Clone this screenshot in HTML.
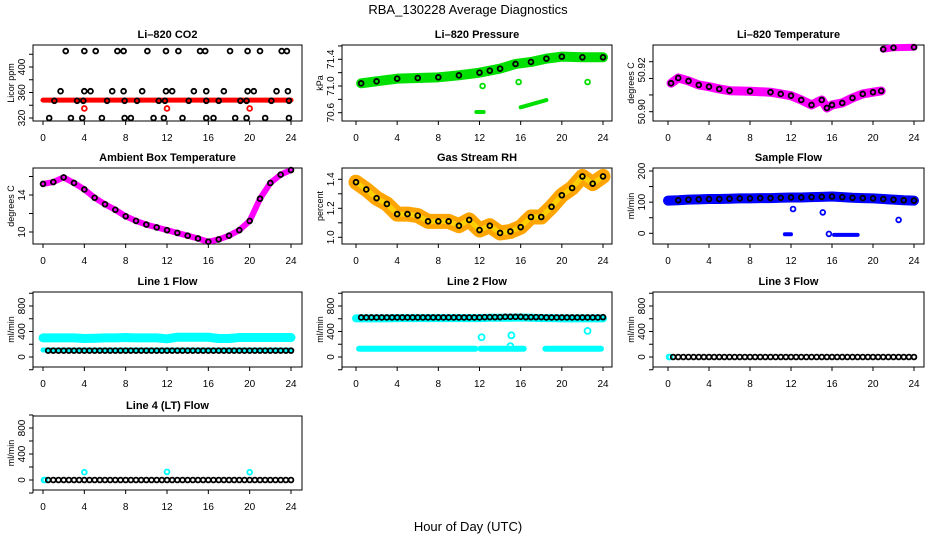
<!DOCTYPE html>
<html><head><meta charset="utf-8">
<style>
html,body{margin:0;padding:0;background:#fff;}
svg{display:block;font-family:"Liberation Sans",sans-serif;}
.t{font-weight:bold;font-size:11px;}
.tk{font-size:10px;}
</style></head>
<body>
<svg id="c" width="936" height="540" viewBox="0 0 936 540">
<text x="468" y="14" text-anchor="middle" font-size="13">RBA_130228  Average Diagnostics</text>
<text x="468" y="531" text-anchor="middle" font-size="13">Hour of Day (UTC)</text>
</svg>
<script>
// ---------- data ----------
const hours = [0,1,2,3,4,5,6,7,8,9,10,11,12,13,14,15,16,17,18,19,20,21,22,23,24];
const halfHours = [0.5,1,1.5,2,2.5,3,3.5,4,4.5,5,5.5,6,6.5,7,7.5,8,8.5,9,9.5,10,10.5,11,11.5,12,12.5,13,13.5,14,14.5,15,15.5,16,16.5,17,17.5,18,18.5,19,19.5,20,20.5,21,21.5,22,22.5,23,23.5,24];
// CO2
const co2HiX = [2.2,4.0,5.1,7.2,7.8,10.1,11.9,13.1,15.2,15.7,18.1,19.8,21.0,23.1,23.6];
const co2HiV = [425,425,425,425,425,425,425,425,425,425,425,425,425,425,425];
const co2MidX = [1.7,4.0,4.6,6.7,7.8,9.6,11.9,12.5,14.6,15.8,17.5,19.8,20.4,22.6,23.7];
const co2MidV = [362,362,362,362,362,362,362,362,362,362,362,362,362,362,362];
const co2MainX = [1.1,3.3,3.9,6.2,7.9,9.1,11.2,11.8,14.1,15.8,17.0,19.1,19.7,22.1,23.8];
const co2MainV = [347,347,347,347,347,347,347,347,347,347,347,347,347,347,347];
const co2LowX = [0.6,2.7,3.8,5.7,7.9,8.5,10.7,11.7,13.5,15.8,16.5,18.6,19.7,21.5,23.8];
const co2LowV = [320,320,320,320,320,320,320,320,320,320,320,320,320,320,320];
const co2Band = [348,348,348,348,348,348,348,348,348,348,348,348,348,348,348,348,348,348,348,348,348,348,348,348,348];
const co2RedX = [4,12,20];
const co2RedV = [335,335,335];
// Pressure
const presX = [0.5,2,4,6,8,10,12,13,14,15.5,17,18.5,20,22,24];
const presV = [71.04,71.07,71.11,71.12,71.13,71.16,71.2,71.23,71.26,71.33,71.36,71.41,71.44,71.43,71.43];
const presOutX = [12.3,15.8,22.5];
const presOutV = [71.0,71.06,71.06];
const presSegA = [[11.7,70.61],[12.4,70.61]];
const presSegB = [[16.0,70.68],[18.5,70.79]];
// Li-820 temperature
const ltX = [0.3,1,2,3,4,5,6,8,10,11,12,13,14,15,15.5,16,17,18,19,20,20.8,21,22,24];
const ltV = [50.9114,50.9135,50.9123,50.9107,50.9100,50.9091,50.9084,50.9082,50.9078,50.9071,50.9064,50.9047,50.9027,50.9047,50.9015,50.9027,50.9035,50.9055,50.9071,50.9078,50.9083,50.9250,50.9256,50.9258];
// Ambient box temperature
const ambV = [15.2,15.4,15.9,15.3,14.6,13.7,13.0,12.4,11.7,11.2,10.8,10.5,10.2,9.9,9.6,9.3,8.95,9.2,9.6,10.2,11.2,13.6,15.3,16.2,16.7];
// Gas stream RH
const rhV = [1.38,1.33,1.27,1.23,1.16,1.16,1.15,1.11,1.11,1.11,1.08,1.12,1.05,1.08,1.03,1.04,1.07,1.14,1.14,1.21,1.29,1.34,1.42,1.37,1.42];
// Sample flow
const sfV = [105,106,108,109,110,110,111,112,112,113,113,114,115,115,116,117,118,116,114,113,112,110,108,106,105];
const sfOutX = [12.2,15.1,15.7,22.5];
const sfOutV = [78,67,-2,43];
const sfSegA = [[11.4,-3],[12.0,-3]];
const sfSegB = [[16.2,-5],[18.5,-5]];
// Line flows
const l1Band = [300,300,300,300,290,295,300,300,305,300,300,300,285,310,310,310,310,290,290,305,305,305,305,305,305];
const l1Low = [110,110,110,110,110,110,110,110,110,110,110,110,110,110,110,110,110,110,110,110,110,110,110,110,110];
const l1Black = [100,100,100,100,100,100,100,100,100,100,100,100,100,100,100,100,100,100,100,100,100,100,100,100,100,100,100,100,100,100,100,100,100,100,100,100,100,100,100,100,100,100,100,100,100,100,100,100];
const l2Band = [605,605,605,605,610,610,610,610,610,610,610,610,610,615,615,615,620,615,610,610,605,605,605,605,605];
const l2Black = [620,620,620,620,620,620,620,620,620,620,620,620,620,620,620,620,620,620,620,620,620,620,620,620,625,625,625,625,630,630,630,630,625,625,625,625,620,620,620,620,620,620,620,620,620,620,620,625];
const l2LowSegs = [[0.3,11.6,130],[12.1,16.3,130],[18.4,23.8,130]];
const l2OutX = [12.2,15.1,22.5,15.0];
const l2OutV = [310,340,410,170];
const zeroHalf = [0,0,0,0,0,0,0,0,0,0,0,0,0,0,0,0,0,0,0,0,0,0,0,0,0,0,0,0,0,0,0,0,0,0,0,0,0,0,0,0,0,0,0,0,0,0,0,0];
const l4OutX = [4,12,20];
const l4OutV = [120,125,120];

// ---------- layout ----------
const NS = "http://www.w3.org/2000/svg";
const svg = document.getElementById('c');
function el(tag, attrs, parent){const e=document.createElementNS(NS,tag);for(const k in attrs)e.setAttribute(k,attrs[k]);(parent||svg).appendChild(e);return e;}
const cols = [{l:33,r:302,x0:43,x24:291},{l:342,r:612,x0:356,x24:603},{l:653,r:924,x0:668,x24:914}];
const rows = [{t:45,b:121},{t:168,b:244},{t:292,b:367},{t:416,b:490}];

function panel(name,title,ci,ri,ylab,v0,p0,v1,p1,ticks,labels){
  const c=cols[ci], r=rows[ri];
  const g=el('g',{});
  
  
  const X=h=>c.x0+(h/24)*(c.x24-c.x0);
  const Y=v=>p0+(v-v0)*(p1-p0)/(v1-v0);
  const tt=el('text',{x:(c.l+c.r)/2,y:r.t-7,'text-anchor':'middle','class':'t'},g);tt.textContent=title;
  
  
  const box=el('rect',{x:c.l,y:r.t,width:c.r-c.l,height:r.b-r.t,fill:'none',stroke:'#000','stroke-width':1},g);
  
  
  const xa=el('g',{},g);
  
  
  el('line',{x1:X(0),x2:X(24),y1:r.b,y2:r.b,stroke:'#000'},xa);
  [0,4,8,12,16,20,24].forEach(h=>{el('line',{x1:X(h),x2:X(h),y1:r.b,y2:r.b+4,stroke:'#000'},xa);
    const t=el('text',{x:X(h),y:r.b+20,'text-anchor':'middle','class':'tk'},xa);t.textContent=h;});
  const ya=el('g',{},g);
  
  
  const ys=ticks.map(Y);
  el('line',{x1:c.l,x2:c.l,y1:Math.min(...ys),y2:Math.max(...ys),stroke:'#000'},ya);
  ticks.forEach(v=>el('line',{x1:c.l-4,x2:c.l,y1:Y(v),y2:Y(v),stroke:'#000'},ya));
  labels.forEach(([v,s])=>{const t=el('text',{x:0,y:0,'text-anchor':'middle','class':'tk',transform:`translate(${c.l-8},${Y(v)}) rotate(-90)`},ya);t.textContent=s;});
  const yt=el('text',{x:0,y:0,'text-anchor':'middle','font-size':9,transform:`translate(${c.l-19},${(r.t+r.b)/2}) rotate(-90)`},g);yt.textContent=ylab;
  
  
  const clip=el('g',{},g);
  return {X,Y,g:clip};
}
function band(P,xs,vs,color,w,nm){
  const pl=el('polyline',{points:xs.map((h,i)=>P.X(h)+','+P.Y(vs[i])).join(' '),fill:'none',stroke:color,'stroke-width':w,'stroke-linejoin':'round','stroke-linecap':'round'},P.g);
  
  
}
function pts(P,xs,vs,color,nm,rad){
  xs.forEach((h,i)=>{const ci=el('circle',{cx:P.X(h),cy:P.Y(vs[i]),r:rad||2.4,fill:'none',stroke:color,'stroke-width':1.8},P.g);
    
    });
}
function seg(P,s,color,w,nm){band(P,[s[0][0],s[1][0]],[s[0][1],s[1][1]],color,w,nm);}

let P=panel('co2','Li\u2013820 CO2',0,0,'Licor ppm',320,118,400,67,[320,340,360,380,400,420],[[320,'320'],[360,'360'],[400,'400']]);
band(P,hours,co2Band,'#ff0000',5,'co2-band');
pts(P,co2HiX,co2HiV,'#000','co2-point');pts(P,co2MidX,co2MidV,'#000','co2-point');
pts(P,co2MainX,co2MainV,'#000','co2-point');pts(P,co2LowX,co2LowV,'#000','co2-point');
pts(P,co2RedX,co2RedV,'#ff0000','co2-red-point');
P=panel('pressure','Li\u2013820 Pressure',1,0,'kPa',71.0,86,71.4,59.3,[70.6,70.8,71.0,71.2,71.4,71.6],[[70.6,'70.6'],[71.0,'71.0'],[71.4,'71.4']]);
band(P,presX,presV,'#00e000',10,'pressure-band');
seg(P,presSegA,'#00e000',4,'pressure-outlier-seg');seg(P,presSegB,'#00e000',4,'pressure-outlier-seg');
pts(P,presOutX,presOutV,'#00e000','pressure-outlier');
pts(P,presX,presV,'#000','pressure-point');
P=panel('li820-temp','Li\u2013820 Temperature',2,0,'degrees C',50.90,111.7,50.92,61.7,[50.90,50.9067,50.9133,50.92],[[50.90,'50.90'],[50.9167,'50.92']]);
band(P,ltX.slice(0,21),ltV.slice(0,21),'#ff00ff',9,'li820-temp-band');
band(P,ltX.slice(21),ltV.slice(21),'#ff00ff',7,'li820-temp-band');
pts(P,ltX,ltV,'#000','li820-temp-point');
P=panel('ambient','Ambient Box Temperature',0,1,'degrees C',10,232,14,195,[10,12,14,16],[[10,'10'],[14,'14']]);
band(P,hours,ambV,'#ff00ff',6,'ambient-band');
pts(P,hours,ambV,'#000','ambient-point');
P=panel('rh','Gas Stream RH',1,1,'percent',1.0,237.3,1.4,179.3,[1.0,1.1,1.2,1.3,1.4],[[1.0,'1.0'],[1.2,'1.2'],[1.4,'1.4']]);
band(P,hours,rhV,'#ffa500',15,'rh-band');
band(P,hours,rhV,'#ffd000',5,'rh-band-core');
pts(P,hours,rhV,'#000','rh-point');
P=panel('sample-flow','Sample Flow',2,1,'ml/min',0,233.3,200,171,[0,50,100,150,200],[[0,'0'],[100,'100'],[200,'200']]);
band(P,hours,sfV,'#0000ff',10,'sample-flow-band');
seg(P,sfSegA,'#0000ff',4,'sample-flow-outlier-seg');seg(P,sfSegB,'#0000ff',4,'sample-flow-outlier-seg');
pts(P,sfOutX,sfOutV,'#0000ff','sample-flow-outlier');
pts(P,hours.slice(1),sfV.slice(1),'#000','sample-flow-point');
const fT=[-200,0,200,400,600,800,1000], fL=[[0,'0'],[400,'400'],[800,'800']];
P=panel('line1-flow','Line 1 Flow',0,2,'ml/min',0,357,800,306,fT,fL);
band(P,hours,l1Band,'#00ffff',9,'line1-band');band(P,hours,l1Low,'#00ffff',5,'line1-low-band');
pts(P,halfHours,l1Black,'#000','line1-point');
P=panel('line2-flow','Line 2 Flow',1,2,'ml/min',0,357,800,306,fT,fL);
band(P,hours,l2Band,'#00ffff',8,'line2-band');
l2LowSegs.forEach(s=>seg(P,[[s[0],s[2]],[s[1],s[2]]],'#00ffff',6,'line2-low-band'));
pts(P,l2OutX,l2OutV,'#00ffff','line2-outlier',3);
pts(P,halfHours,l2Black,'#000','line2-point');
P=panel('line3-flow','Line 3 Flow',2,2,'ml/min',0,357,800,306,fT,fL);
pts(P,[0.1,0.2],[0,0],'#00ffff','line3-cyan-point');
pts(P,halfHours,zeroHalf,'#000','line3-point');
P=panel('line4-flow','Line 4 (LT) Flow',0,3,'ml/min',0,480,800,428,fT,fL);
pts(P,[0.1,0.2],[0,0],'#00ffff','line4-cyan-point');
pts(P,l4OutX,l4OutV,'#00ffff','line4-outlier');
pts(P,halfHours,zeroHalf,'#000','line4-point');
</script>
</body></html>
